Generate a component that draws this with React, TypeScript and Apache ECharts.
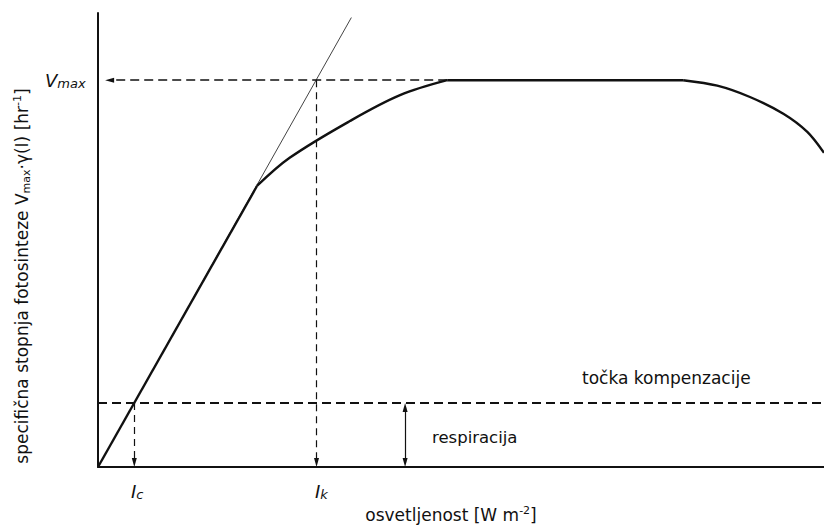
import React, { useEffect, useRef } from 'react';
import * as echarts from 'echarts';

// Linear (light-limited) part of the P–I curve
const LINEAR_X = [0, 21.9];
const LINEAR_Y = [0, 61.9];
// Saturating part
const RISE_X = [21.9, 26.4, 34.7, 41.6, 48.1];
const RISE_Y = [61.9, 68.1, 76.2, 81.9, 85.2];
// Plateau
const PLATEAU_X = [48.1, 80.6];
const PLATEAU_Y = [85.2, 85.2];
// Photoinhibition part
const FALL_X = [80.6, 85.3, 89.8, 94.4, 97.7, 100];
const FALL_Y = [85.2, 84.0, 81.5, 77.8, 73.8, 69.2];
// Initial slope (tangent) line
const TANGENT_X = [0, 34.9];
const TANGENT_Y = [0, 99];
// Key values
const V_MAX = 85.2;
const I_K = 30.1;
const COMPENSATION = 14.1;
const I_C = 5.0;
const RESP_X = 42.3;
const PLATEAU_START = 48.1;
const X_MAX = 100;
const Y_MAX = 100;

const FONT = '"DejaVu Sans", Verdana, sans-serif';
const INK = '#111';

const zip = (xs: number[], ys: number[]) => xs.map((x, i) => [x, ys[i]]);

export default function App() {
  const ref = useRef<HTMLDivElement>(null);
  useEffect(() => {
    const chart = echarts.init(ref.current!, null, { renderer: 'svg' });
    const arrowH = 1;
    const arrowXPad = 1.6;
    const dashThick = { type: [9, 5], width: 2, color: INK };
    const dashThin = { type: [7, 5], width: 1.2, color: INK };
    const solidThin = { type: 'solid', width: 1.2, color: INK };
    const tri = 'triangle';
    const triSize = [5, 9];
    const curveStyle = { color: INK, width: 2.4 };
    const sub = { fontSize: 13, fontStyle: 'italic', fontFamily: FONT, lineHeight: 12, verticalAlign: 'bottom', fill: INK };
    const italicMain = { fontSize: 18, fontStyle: 'italic', fontFamily: FONT, lineHeight: 20, fill: INK };
    chart.setOption({
      animation: false,
      backgroundColor: '#fff',
      grid: { left: 98, right: 0, top: 13, bottom: 59, containLabel: false },
      xAxis: {
        type: 'value', min: 0, max: X_MAX,
        axisLine: { show: true, onZero: false, lineStyle: { color: INK, width: 2 } },
        axisTick: { show: false }, axisLabel: { show: false }, splitLine: { show: false },
      },
      yAxis: {
        type: 'value', min: 0, max: Y_MAX,
        axisLine: { show: true, onZero: false, lineStyle: { color: INK, width: 2 } },
        axisTick: { show: false }, axisLabel: { show: false }, splitLine: { show: false },
      },
      series: [
        { type: 'line', data: zip(LINEAR_X, LINEAR_Y), symbol: 'none', silent: true, lineStyle: curveStyle, z: 5 },
        { type: 'line', data: zip(RISE_X, RISE_Y), symbol: 'none', smooth: 0.35, silent: true, lineStyle: curveStyle, z: 5 },
        { type: 'line', data: zip(PLATEAU_X, PLATEAU_Y), symbol: 'none', silent: true, lineStyle: curveStyle, z: 5 },
        { type: 'line', data: zip(FALL_X, FALL_Y), symbol: 'none', smooth: 0.3, silent: true, lineStyle: curveStyle, z: 5 },
        {
          type: 'line', data: zip(TANGENT_X, TANGENT_Y), symbol: 'none', silent: true,
          lineStyle: { color: '#444', width: 1 }, z: 4,
          markLine: {
            silent: true,
            animation: false,
            symbol: ['none', 'none'],
            label: { show: false },
            data: [
              [{ coord: [0, COMPENSATION], lineStyle: dashThick }, { coord: [X_MAX, COMPENSATION] }],
              [
                { coord: [PLATEAU_START, V_MAX], lineStyle: { ...dashThick, width: 1.6 } },
                { coord: [arrowXPad, V_MAX], symbol: tri, symbolSize: triSize },
              ],
              [
                { coord: [I_K, V_MAX], lineStyle: dashThin },
                { coord: [I_K, arrowH], symbol: tri, symbolSize: triSize },
              ],
              [
                { coord: [I_C, COMPENSATION], lineStyle: dashThin },
                { coord: [I_C, arrowH], symbol: tri, symbolSize: triSize },
              ],
              [
                { coord: [RESP_X, COMPENSATION - arrowH], lineStyle: solidThin, symbol: tri, symbolSize: triSize },
                { coord: [RESP_X, arrowH], symbol: tri, symbolSize: triSize },
              ],
            ],
          },
        },
      ],
      graphic: [
        {
          type: 'text', x: 45, y: 80,
          style: { text: '{v|V}{s|max}', align: 'left', verticalAlign: 'middle', fill: INK, rich: { v: italicMain, s: sub } },
        },
        {
          type: 'text', x: 131, y: 491,
          style: { text: '{v|I}{s|c}', align: 'left', verticalAlign: 'middle', fill: INK, rich: { v: italicMain, s: sub } },
        },
        {
          type: 'text', x: 315, y: 491,
          style: { text: '{v|I}{s|k}', align: 'left', verticalAlign: 'middle', fill: INK, rich: { v: italicMain, s: sub } },
        },
        {
          type: 'text', x: 451, y: 515,
          style: {
            text: '{n|osvetljenost [W m}{p|-2}{n|]}', align: 'center', verticalAlign: 'middle', fill: INK,
            rich: {
              n: { fontSize: 17, fontFamily: FONT, lineHeight: 20, fill: INK },
              p: { fontSize: 11, fontFamily: FONT, lineHeight: 10, verticalAlign: 'top', fill: INK },
            },
          },
        },
        {
          type: 'text', x: 582, y: 378,
          style: { text: 'točka kompenzacije', fontSize: 17, fontFamily: FONT, fill: INK, align: 'left', verticalAlign: 'middle' },
        },
        {
          type: 'text', x: 432, y: 437,
          style: { text: 'respiracija', fontSize: 16.5, fontFamily: FONT, fill: INK, align: 'left', verticalAlign: 'middle' },
        },
        {
          type: 'text', x: 22, y: 276, rotation: Math.PI / 2,
          style: {
            text: '{n|specifična stopnja fotosinteze V}{s|max}{n|·γ(I) [hr}{p|-1}{n|]}',
            align: 'center', verticalAlign: 'middle', fill: INK,
            rich: {
              n: { fontSize: 17, fontFamily: FONT, lineHeight: 20, fill: INK },
              s: { fontSize: 11, fontFamily: FONT, lineHeight: 10, verticalAlign: 'bottom', fill: INK },
              p: { fontSize: 11, fontFamily: FONT, lineHeight: 10, verticalAlign: 'top', fill: INK },
            },
          },
        },
      ],
    });
    return () => chart.dispose();
  }, []);
  return <div ref={ref} style={{ position: 'absolute', left: 0, top: 0, width: 824, height: 526 }} />;
}
